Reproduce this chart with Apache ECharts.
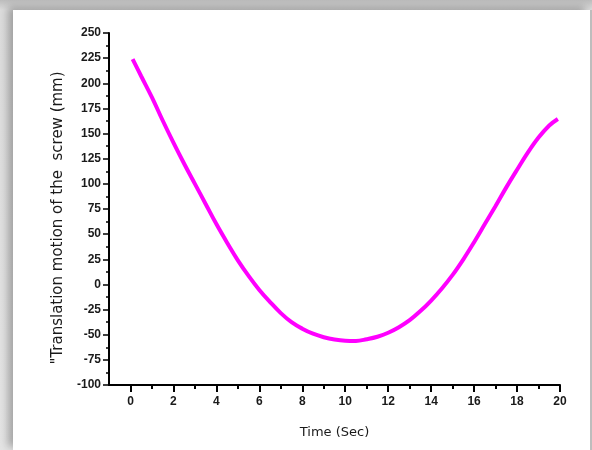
<!DOCTYPE html>
<html><head><meta charset="utf-8">
<script src="https://cdn.jsdelivr.net/npm/echarts@6/dist/echarts.min.js"></script>
<style>
html,body{margin:0;padding:0;width:592px;height:450px;overflow:hidden;background:#dcdcdc;}
#bg{position:absolute;left:0;top:0;width:592px;height:450px;background:linear-gradient(to bottom,#bcbcbc 0px,#dcdcdc 10px,#e4e4e4 100%);}
#panel{position:absolute;left:13px;top:10px;width:577px;height:440px;background:#fff;box-shadow:-5px -3px 8px rgba(0,0,0,0.28);}
#edge{position:absolute;left:590px;top:10px;width:2px;height:440px;background:#bdbdbd;}
#chart{position:absolute;left:0;top:0;width:592px;height:450px;}
</style></head>
<body>
<div id="bg"></div><div id="panel"></div><div id="edge"></div>
<div id="chart"></div>
<script>
const time = [0.1, 0.5, 1, 1.5, 2, 2.5, 3, 3.5, 4, 4.5, 5, 5.5, 6, 6.5, 7, 7.5, 8, 8.5, 9, 9.5, 10, 10.5, 11, 11.5, 12, 12.5, 13, 13.5, 14, 14.5, 15, 15.5, 16, 16.5, 17, 17.5, 18, 18.5, 19, 19.5, 19.9];
const translation = [224, 207, 186, 163, 141, 120, 100, 80, 60, 41.5, 24, 8.5, -5.5, -17.5, -28.5, -37.5, -44, -49, -52.5, -54.8, -56, -56.2, -54.5, -52, -48, -42.5, -35.5, -26.5, -16, -4, 9.5, 25, 42, 60, 78, 96.5, 114, 131, 146, 158, 164.5];
const xMajorTicks = [0, 2, 4, 6, 8, 10, 12, 14, 16, 18, 20];
const xMinorTicks = [1, 3, 5, 7, 9, 11, 13, 15, 17, 19];

const labelFont = {fontFamily: 'Liberation Sans', fontSize: 12, fontWeight: 'bold', color: '#1a1a1a'};
const chart = echarts.init(document.getElementById('chart'), null, {renderer: 'canvas'});
chart.setOption({
  animation: false,
  grid: {left: 109, top: 33, right: 32, bottom: 65, containLabel: false},
  xAxis: [{
    type: 'value', min: -1, max: 20,
    name: 'Time (Sec)', nameLocation: 'middle', nameGap: 41,
    nameTextStyle: {fontFamily: 'DejaVu Sans', fontSize: 13, color: '#1a1a1a'},
    axisLine: {show: true, onZero: false, lineStyle: {color: '#000', width: 2}},
    axisTick: {show: true, length: 7, lineStyle: {color: '#000', width: 2}, customValues: xMajorTicks},
    axisLabel: Object.assign({margin: 11, customValues: xMajorTicks}, labelFont),
    splitLine: {show: false}
  }, {
    type: 'value', min: -1, max: 20, position: 'bottom',
    axisLine: {show: false, onZero: false},
    axisTick: {show: true, length: 4, lineStyle: {color: '#000', width: 2}, customValues: xMinorTicks},
    axisLabel: {show: false, customValues: xMinorTicks},
    splitLine: {show: false}
  }],
  yAxis: {
    type: 'value', min: -100, max: 250, interval: 25,
    name: '"Translation motion of the  screw (mm)', nameLocation: 'middle', nameGap: 42,
    nameTextStyle: {fontFamily: 'DejaVu Sans', fontSize: 15, color: '#1a1a1a', padding: [0, 18, 0, 0]},
    axisLine: {show: true, onZero: false, lineStyle: {color: '#000', width: 2}},
    axisTick: {show: true, length: 6, lineStyle: {color: '#000', width: 1.5}},
    minorTick: {show: true, splitNumber: 2, length: 3, lineStyle: {color: '#000', width: 1.5}},
    axisLabel: Object.assign({margin: 8}, labelFont),
    splitLine: {show: false}
  },
  series: [{
    type: 'line', xAxisIndex: 0,
    data: time.map((t, i) => [t, translation[i]]),
    smooth: 0.4, showSymbol: false,
    lineStyle: {color: '#ff00ff', width: 4}
  }]
});
</script>
</body></html>
